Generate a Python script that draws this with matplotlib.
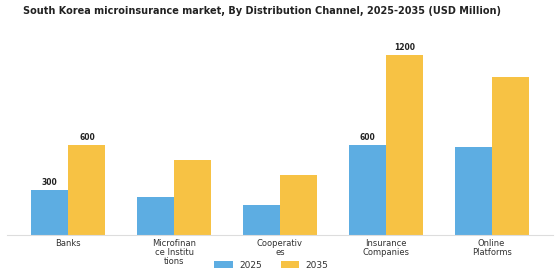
import matplotlib
matplotlib.use("Agg")
import matplotlib.pyplot as plt
import numpy as np

categories = ["Banks", "Microfinan\nce Institu\ntions", "Cooperativ\nes", "Insurance\nCompanies", "Online\nPlatforms"]
series_names = ["2025", "2035"]
values_2025 = [300, 250, 200, 600, 585]
values_2035 = [600, 500, 400, 1200, 1050]
labelled_groups = [0, 3]

colors = ["#5DADE2", "#F7C244"]

fig = plt.figure(figsize=(5.6, 2.8), dpi=100)
ax = fig.add_axes([0.0125, 0.161, 0.975, 0.74])

x = np.arange(len(categories))
w = 0.35
ax.bar(x - w/2, values_2025, w, color=colors[0], label=series_names[0])
ax.bar(x + w/2, values_2035, w, color=colors[1], label=series_names[1])

for i in labelled_groups:
    ax.text(x[i] - w/2, values_2025[i] + 20, f"{values_2025[i]}", ha="center", va="bottom",
            fontsize=5.5, fontweight="bold", color="#222222")
    ax.text(x[i] + w/2, values_2035[i] + 20, f"{values_2035[i]}", ha="center", va="bottom",
            fontsize=5.5, fontweight="bold", color="#222222")

ax.set_xlim(-0.58, 4.58)
ax.set_ylim(0, 1380)
ax.set_xticks(x)
ax.set_xticklabels(categories, fontsize=6, color="#333333", linespacing=1.0)
ax.tick_params(axis="x", length=0, pad=3)
ax.set_yticks([])
for s in ["top", "right", "left"]:
    ax.spines[s].set_visible(False)
ax.spines["bottom"].set_color("#dddddd")
ax.spines["bottom"].set_linewidth(0.8)

fig.suptitle("South Korea microinsurance market, By Distribution Channel, 2025-2035 (USD Million)",
             fontsize=7.0, fontweight="bold", x=0.467, y=0.978, color="#222222")

fig.legend(loc="center", bbox_to_anchor=(0.485, 0.053), ncol=2, frameon=False, fontsize=6.5,
           handlelength=2.0, handleheight=0.7, columnspacing=2.0, labelcolor="#333333")

fig.savefig("out.png", dpi=100)
